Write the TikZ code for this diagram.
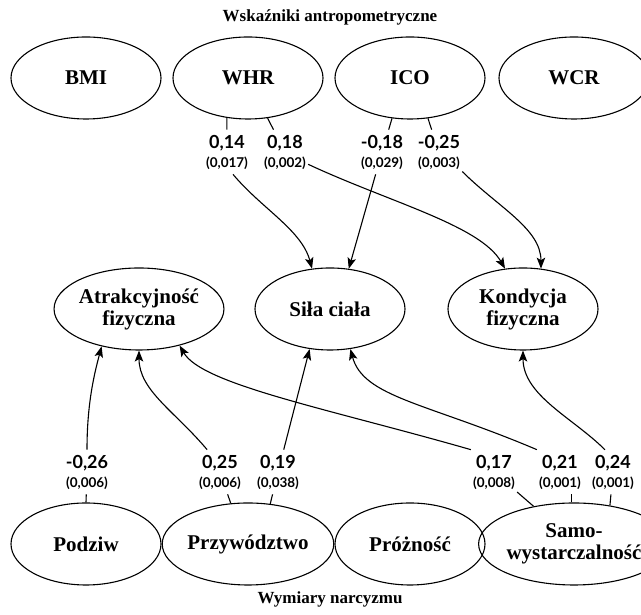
\documentclass[tikz,border=0pt]{standalone}
\usepackage{fontspec}
\setmainfont{Liberation Serif}
\newfontfamily\labfont{Lato}
\usetikzlibrary{shapes.geometric,arrows.meta}
\newcommand\coefv[2]{{\fontsize{18}{19}\selectfont #1}\\#2}
\begin{document}
\begin{tikzpicture}[x=1pt,y=1pt,
  var/.style={ellipse,draw,line width=1.1pt,minimum width=150pt,minimum height=82pt,inner sep=0pt,align=center,font=\fontsize{21}{22}\selectfont\bfseries},
  coef/.style={align=center,inner xsep=2pt,inner ysep=5pt,font=\labfont\bfseries\fontsize{13.5}{19}\selectfont},
  link/.style={line width=1.1pt},
  arr/.style={link,-{Stealth[length=11pt,width=8.5pt,inset=2.5pt]}},
  ttl/.style={font=\fontsize{17}{20}\selectfont\bfseries}
]
\useasboundingbox (0,0) rectangle (641,615);
% titles
\node[ttl] (t1) at (330,598) {Wskaźniki antropometryczne};
\node[ttl] (t2) at (330,16) {Wymiary narcyzmu};
% top row
\node[var] (bmi) at (86,537) {BMI};
\node[var] (whr) at (248,537) {WHR};
\node[var] (ico) at (410,537) {ICO};
\node[var] (wcr) at (574,537) {WCR};
% middle row
\node[var] (atr) at (139,306) {Atrakcyjność\\fizyczna};
\node[var] (sila) at (330,306) {Siła ciała};
\node[var] (kond) at (523,306) {Kondycja\\fizyczna};
% bottom row
\node[var] (podziw) at (86,71) {Podziw};
\node[var] (przy) at (248,71) {Przywództwo};
\node[var] (proz) at (410,71) {Próżność};
\node[var] (samo) at (574,71) {Samo-\\wystarczalność};
% coefficients top
\node[coef] (c1) at (227,463) {\coefv{0,14}{(0,017)}};
\node[coef] (c2) at (285,463) {\coefv{0,18}{(0,002)}};
\node[coef] (c3) at (382,463) {\coefv{-0,18}{(0,029)}};
\node[coef] (c4) at (439,463) {\coefv{-0,25}{(0,003)}};
% coefficients bottom
\node[coef] (d1) at (87,143) {\coefv{-0,26}{(0,006)}};
\node[coef] (d2) at (220,143) {\coefv{0,25}{(0,006)}};
\node[coef] (d3) at (278,143) {\coefv{0,19}{(0,038)}};
\node[coef] (d4) at (494,143) {\coefv{0,17}{(0,008)}};
\node[coef] (d5) at (560,143) {\coefv{0,21}{(0,001)}};
\node[coef] (d6) at (613,143) {\coefv{0,24}{(0,001)}};
% ticks from source ellipses to coefficients
\draw[link] (whr.-118) -- (c1);
\draw[link] (whr.-64) -- (c2);
\draw[link] (ico.-114) -- (c3);
\draw[link] (ico.-66) -- (c4);
\draw[link] (podziw.north) -- (d1);
\draw[link] (przy.113) -- (d2);
\draw[link] (przy.61) -- (d3);
\draw[link] (samo.137) -- (d4);
\draw[link] (samo.93) -- (samo.93 |- d5.south);
\draw[link] (samo.47) -- (d6);
% arrows from coefficients to targets (top)
\draw[arr] (c1.-75) .. controls +(-50:45) and +(105:40) .. (sila.114);
\draw[arr] (c3) -- (sila.65);
\draw[arr] (c2.-28) .. controls +(-25:90) and +(120:50) .. (kond.114);
\draw[arr] (c4.-40) .. controls +(-45:50) and +(90:40) .. (kond.66);
% arrows (bottom)
\draw[arr] (d1.north) .. controls +(90:45) and +(-105:30) .. (atr.-135);
\draw[arr] (d2.120) .. controls +(130:50) and +(-90:40) .. (atr.south);
\draw[arr] (d4.north west) .. controls +(164:150) and +(-60:45) .. (atr.-42);
\draw[arr] (d3) -- (sila.-117);
\draw[arr] (d5.north west) .. controls +(157:120) and +(-75:50) .. (sila.-63);
\draw[arr] (d6.110) .. controls +(135:45) and +(-90:45) .. (kond.south);
\end{tikzpicture}
\end{document}
